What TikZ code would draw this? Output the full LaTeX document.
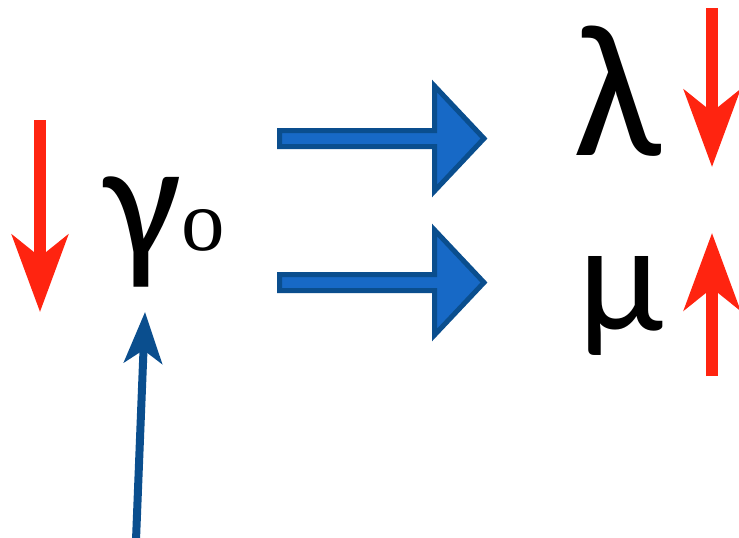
\documentclass[tikz,border=0pt]{standalone}
\usepackage{fontspec}
\setmainfont{Carlito}
\newfontfamily\serifo{Liberation Serif}
\usetikzlibrary{arrows.meta}
\definecolor{redarrow}{HTML}{FF2410}
\definecolor{bluefill}{HTML}{1769C6}
\definecolor{blueedge}{HTML}{0A4E8E}
\tikzset{
  redarr/.style={draw=redarrow, line width=12pt,
    -{Stealth[length=77pt,width=56pt,inset=22pt,fill=redarrow]}},
  bluearr/.style={draw=blueedge, line width=8pt,
    -{Stealth[length=51pt,width=38pt,inset=13pt,fill=blueedge]}},
  blockarr/.style={fill=bluefill, draw=blueedge, line width=5pt, line join=miter},
  greek/.style={inner sep=0pt, anchor=base west},
  smallo/.style={inner sep=0pt, anchor=base west, font=\serifo\fontsize{87}{87}\selectfont}
}
\begin{document}
\begin{tikzpicture}[x=1pt,y=-1pt]
\useasboundingbox[fill=white] (0,0) rectangle (739,538);
% texts
\node[greek, font=\fontsize{172}{172}\selectfont] (gamma) at (104,259) {γ};
\node[smallo] (o) at (181,250) {o};
\node[greek, font=\fontsize{190}{190}\selectfont] (lambda) at (573,155) {λ};
\node[greek, font=\fontsize{155}{155}\selectfont] (mu) at (578,330) {μ};
% coordinates for arrows
\coordinate (l1) at (40,120);
\coordinate (l2) at (40,312);
\coordinate (r1) at (712,8);
\coordinate (r2) at (712,167);
\coordinate (u1) at (712,376);
\coordinate (u2) at (712,233);
\coordinate (b1) at (136,540);
\coordinate (b2) at (145,312);
% red arrows
\draw[redarr] (l1) -- (l2);
\draw[redarr] (r1) -- (r2);
\draw[redarr] (u1) -- (u2);
% blue thin arrow
\draw[bluearr] (b1) -- (b2);
% block arrows
\draw[blockarr] (279.5,130.5) -- (434.5,130.5) -- (434.5,86) -- (484,138.5) -- (434.5,191) -- (434.5,146.5) -- (279.5,146.5) -- cycle;
\draw[blockarr] (279.5,274.5) -- (434.5,274.5) -- (434.5,230) -- (484,282.5) -- (434.5,335) -- (434.5,290.5) -- (279.5,290.5) -- cycle;
\end{tikzpicture}
\end{document}
